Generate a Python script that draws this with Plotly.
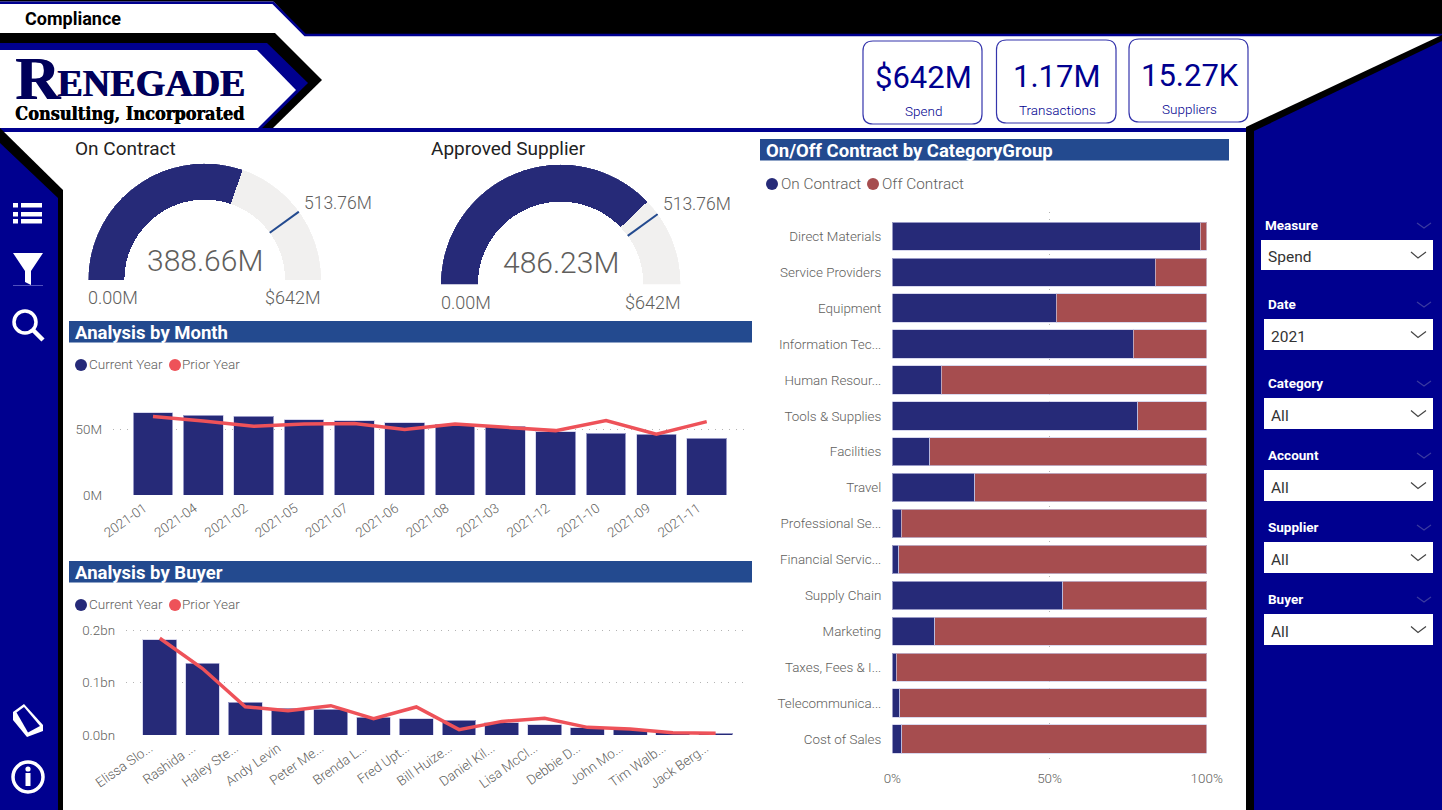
import plotly.graph_objects as go

# ---------- data ----------
months = ["2021-01","2021-04","2021-02","2021-05","2021-07","2021-06","2021-08","2021-03","2021-12","2021-10","2021-09","2021-11"]
month_current = [63.0,61.0,60.2,57.7,56.6,55.1,54.0,52.5,48.5,47.2,46.4,43.4]
month_prior = [60.0,56.6,52.5,54.3,54.6,50.0,54.3,52.0,49.2,56.9,46.4,56.1]
month_ticks = [0,50]
month_ticktext = ["0M","50M"]

buyers = ["Elissa Slo...","Rashida ...","Haley Ste...","Andy Levin","Peter Me...","Brenda L...","Fred Upt...","Bill Huize...","Daniel Kil...","Lisa McCl...","Debbie D...","John Mo...","Tim Walb...","Jack Berg..."]
buyer_current = [0.1815,0.137,0.063,0.051,0.049,0.034,0.031,0.028,0.023,0.020,0.0134,0.0096,0.0045,0.0038]
buyer_prior = [0.1847,0.127,0.054,0.0465,0.056,0.031,0.0535,0.0102,0.026,0.032,0.0146,0.0115,0.0045,0.0032]
buyer_ticks = [0,0.1,0.2]
buyer_ticktext = ["0.0bn","0.1bn","0.2bn"]

groups = ["Direct Materials","Service Providers","Equipment","Information Tec...","Human Resour...","Tools & Supplies","Facilities","Travel","Professional Se...","Financial Servic...","Supply Chain","Marketing","Taxes, Fees & I...","Telecommunica...","Cost of Sales"]
on_contract = [97.9,83.6,52.1,76.6,15.6,78.1,11.9,26.2,2.9,2.0,54.2,13.5,1.3,2.4,3.0]
off_contract = [2.1,16.4,47.9,23.4,84.4,21.9,88.1,73.8,97.1,98.0,45.8,86.5,98.7,97.6,97.0]
pct_ticks = [0,50,100]
pct_ticktext = ["0%","50%","100%"]

gauge_max = 642.0
gauge_target = 513.76
gauge_on_contract = 388.66
gauge_approved = 486.23

kpi_values = ["$642M","1.17M","15.27K"]
kpi_names = ["Spend","Transactions","Suppliers"]
slicers = ["Measure","Date","Category","Account","Supplier","Buyer"]
slicer_values = ["Spend","2021","All","All","All","All"]

# ---------- styles ----------
W, H = 1442, 810
NAVY = "#262A78"
RED = "#EE5259"
OFF = "#A64D4F"
BLUE = "#00008F"
BAND = "#234A8F"
GREY = "#605E5C"
TRACK = "#F1F0EF"
FONT = "Roboto"

def fx(x): return x / W
def fy(y): return 1 - y / H

shapes = []
annotations = []

def poly(points, fill, line=None, lw=0):
    d = "M " + " L ".join(f"{fx(x):.5f},{fy(y):.5f}" for x, y in points) + " Z"
    shapes.append(dict(type="path", xref="paper", yref="paper", path=d, fillcolor=fill,
                       line=dict(color=line or fill, width=lw), layer="below"))

def rect(x0, y0, x1, y1, fill):
    shapes.append(dict(type="rect", xref="paper", yref="paper", x0=fx(x0), x1=fx(x1), y0=fy(y0), y1=fy(y1),
                       fillcolor=fill, line=dict(width=0), layer="below"))

def circle(cx, cy, r, fill="rgba(0,0,0,0)", line=None, lw=0):
    shapes.append(dict(type="circle", xref="paper", yref="paper", x0=fx(cx-r), x1=fx(cx+r), y0=fy(cy-r), y1=fy(cy+r),
                       fillcolor=fill, line=dict(color=line or fill, width=lw), layer="below"))

def polyline(points, color, lw):
    d = "M " + " L ".join(f"{fx(x):.5f},{fy(y):.5f}" for x, y in points)
    shapes.append(dict(type="path", xref="paper", yref="paper", path=d, fillcolor="rgba(0,0,0,0)",
                       line=dict(color=color, width=lw), layer="below"))

def rounded(x0, y0, x1, y1, r, color, lw=1.2):
    d = (f"M {fx(x0+r):.5f},{fy(y0):.5f} L {fx(x1-r):.5f},{fy(y0):.5f} Q {fx(x1):.5f},{fy(y0):.5f} {fx(x1):.5f},{fy(y0+r):.5f} "
         f"L {fx(x1):.5f},{fy(y1-r):.5f} Q {fx(x1):.5f},{fy(y1):.5f} {fx(x1-r):.5f},{fy(y1):.5f} "
         f"L {fx(x0+r):.5f},{fy(y1):.5f} Q {fx(x0):.5f},{fy(y1):.5f} {fx(x0):.5f},{fy(y1-r):.5f} "
         f"L {fx(x0):.5f},{fy(y0+r):.5f} Q {fx(x0):.5f},{fy(y0):.5f} {fx(x0+r):.5f},{fy(y0):.5f} Z")
    shapes.append(dict(type="path", xref="paper", yref="paper", path=d, fillcolor="white",
                       line=dict(color=color, width=lw), layer="below"))

def text(x, y, s, size, color=GREY, anchor="left", bold=False, font=FONT, weight=None, shadow=None):
    f = dict(family=font, size=size, color=color)
    if weight: f["weight"] = weight
    if shadow: f["shadow"] = shadow
    annotations.append(dict(xref="paper", yref="paper", x=fx(x), y=fy(y), text=f"<b>{s}</b>" if bold else s,
                            showarrow=False, xanchor=anchor, yanchor="middle", borderpad=0, borderwidth=0, font=f))

# ---------- page furniture ----------
poly([(272,0),(W,0),(W,34),(304,34)], "black")
rect(0,0,274,1.5,"black")
polyline([(0,2.8),(273,2.8),(305,35),(W,35)], BLUE, 2.5)
poly([(0,33),(275,33),(322,80),(273,128),(258,128),(0,128)], "black")
poly([(0,43),(267,43),(308,83),(258,132),(0,132)], BLUE)
poly([(0,50),(257,50),(296,90),(258,128),(0,128)], "white")
rect(258,128,1250,132,BLUE)
poly([(0,128),(63,190),(63,H),(0,H)], "black")
poly([(0,143),(58,198),(58,H),(0,H)], BLUE)
poly([(W,35),(1246,127),(1246,H),(W,H)], "black")
poly([(W,41),(1254,131),(1254,H),(W,H)], BLUE)

# left icons
for y0 in (203,212,219):
    rect(13,y0,18,y0+4.5,"white")
    rect(21,y0,42,y0+4.5,"white")
poly([(13,253),(43,253),(31,271),(31,285),(25,282),(25,271)], "white")
rect(13,285,43,285.6,"#8888dd")
circle(25,322,11,line="white",lw=3.5)
polyline([(33,330),(43,340)],"white",4.5)
poly([(13,712),(24,704),(43,725),(43,731),(27,737),(13,720)], "white")
poly([(16.5,712.5),(24,707),(40,726),(28,732.5)], BLUE)
circle(28,777,15,line="white",lw=3.5)
circle(28,769,2.6,fill="white")
rect(25.5,773,30.5,786,"white")

# KPI cards
cards = [(863,41,982,124),(996.5,40,1116,123),(1129,39,1248,122)]
for (x0,y0,x1,y1),v,n in zip(cards,kpi_values,kpi_names):
    rounded(x0,y0,x1,y1,10,"#3535AC")
    text((x0+x1)/2+1,y0+36.5,v,31,color="#00008F",anchor="center")
    text((x0+x1)/2+1,y0+70,n,13.5,color="#00008F",anchor="center",weight=300)

# header strips
for x0,y0,x1,s in [(69,321,752,"Analysis by Month"),(69,561,752,"Analysis by Buyer"),(760,139,1229,"On/Off Contract by CategoryGroup")]:
    rect(x0,y0,x1,y0+21.5,BAND)
    text(x0+6,y0+12,s,18.5,color="white",bold=True)

# page text
text(25,18,"Compliance",18,color="black",bold=True)
text(75,148.5,"On Contract",19,color="#222222")
text(431,148.5,"Approved Supplier",19,color="#222222")

# logo (real text)
text(15,78,"R",62,color="#00005A",bold=True,font="Liberation Serif",shadow="1px 0 0 #00005A")
text(57,83,"ENEGADE",38,color="#00005A",bold=True,font="Liberation Serif",shadow="1px 0 0 #00005A")
text(15,113,"Consulting, Incorporated",18,color="black",bold=True,font="DejaVu Serif Condensed",shadow="0.6px 0 0 black")

# gauge labels
text(205,260,f"{gauge_on_contract:.2f}M",30,anchor="center",weight=300)
text(88,297.5,"0.00M",18,weight=300)
text(321,297.5,"$642M",18,anchor="right",weight=300)
text(304,203,f"{gauge_target:.2f}M",17.5,weight=300)
text(561,263,f"{gauge_approved:.2f}M",30,anchor="center",weight=300)
text(441,302,"0.00M",18,weight=300)
text(681,302,"$642M",18,anchor="right",weight=300)
text(663,204,f"{gauge_target:.2f}M",17.5,weight=300)

# legends
def legend(y, items, size, r, dy):
    for cx, tx, color, s in items:
        circle(cx, y, r, fill=color)
        text(tx, y+dy, s, size, weight=300)
legend(365,[(81,89,NAVY,"Current Year"),(175,182,RED,"Prior Year")],13.5,6,-1)
legend(605,[(81,89,NAVY,"Current Year"),(175,182,RED,"Prior Year")],13.5,6,-1)
legend(184,[(772,781,NAVY,"On Contract"),(873,882,OFF,"Off Contract")],15.3,6,0.5)

# slicers
slicer_geom = [(1265,225,1261,240,270),(1268,304,1264,319,350),(1268,383,1264,398,429),
               (1268,455,1264,470,501),(1268,527,1264,542,573),(1268,599,1264,614,645)]
for (lx,ly,bx,by0,by1),name,val in zip(slicer_geom,slicers,slicer_values):
    text(lx,ly,name,13.5,color="white",bold=True)
    polyline([(1417,ly-2),(1424,ly+3),(1431,ly-2)],"#3A3AA0",1.2)
    rect(bx,by0,1433,by1,"white")
    text(bx+7,(by0+by1)/2+2.3,val,15.5,color="#333333")
    polyline([(1411,(by0+by1)/2-3),(1418,(by0+by1)/2+3),(1426,(by0+by1)/2-3)],"#444444",1.2)

# ---------- charts ----------
fig = go.Figure()

tick_font = dict(family=FONT, size=13.4, color=GREY, weight=300)
BAR_LINE = dict(color="rgba(200,200,230,0.7)", width=1)
GRID = dict(gridcolor="#B4B4B4", griddash="1px,6px", gridwidth=1, zeroline=False)

fig.add_trace(go.Bar(x=months, y=month_current, marker=dict(color=NAVY, line=BAR_LINE), xaxis="x", yaxis="y", name="Current Year"))
fig.add_trace(go.Scatter(x=months, y=month_prior, mode="lines", line=dict(color=RED, width=3.5), xaxis="x", yaxis="y", name="Prior Year"))
fig.add_trace(go.Bar(x=buyers, y=buyer_current, marker=dict(color=NAVY, line=BAR_LINE), xaxis="x2", yaxis="y2", name="Current Year"))
fig.add_trace(go.Scatter(x=buyers, y=buyer_prior, mode="lines", line=dict(color=RED, width=3.5), xaxis="x2", yaxis="y2", name="Prior Year"))
fig.add_trace(go.Bar(y=groups, x=on_contract, orientation="h", marker=dict(color=NAVY, line=BAR_LINE), xaxis="x3", yaxis="y3", name="On Contract"))
fig.add_trace(go.Bar(y=groups, x=off_contract, orientation="h", marker=dict(color=OFF, line=BAR_LINE), xaxis="x3", yaxis="y3", name="Off Contract"))

def add_gauge(subplot, value):
    fig.add_trace(go.Barpolar(r=[0.31], base=[0.69], theta=[90], width=[180], marker=dict(color=TRACK, line=dict(width=0)), subplot=subplot))
    sweep = value / gauge_max * 180
    fig.add_trace(go.Barpolar(r=[0.31], base=[0.69], theta=[sweep/2], width=[sweep], marker=dict(color=NAVY, line=dict(width=0)), subplot=subplot))
    t = gauge_target / gauge_max * 180
    fig.add_trace(go.Scatterpolar(r=[0.69,1.0], theta=[t,t], mode="lines", line=dict(color=BAND, width=2), subplot=subplot))
add_gauge("polar", gauge_on_contract)
add_gauge("polar2", gauge_approved)

def polar_layout(cx, base, R):
    return dict(domain=dict(x=[fx(cx-R), fx(cx+R)], y=[fy(base), fy(base-R)]), sector=[0,180], bgcolor="rgba(0,0,0,0)", barmode="overlay",
                radialaxis=dict(visible=False, range=[0,1]),
                angularaxis=dict(visible=False, direction="clockwise", rotation=180, thetaunit="degrees"))

def dom(a, b, size):
    return [a/size, b/size]

fig.update_layout(
    width=W, height=H, margin=dict(l=0,r=0,t=0,b=0,pad=0,autoexpand=False),
    paper_bgcolor="white", plot_bgcolor="rgba(0,0,0,0)", showlegend=False,
    barmode="stack", shapes=shapes, annotations=annotations,
    font=dict(family=FONT, color=GREY),
    polar=polar_layout(204.7,280,116.5), polar2=polar_layout(560.7,284.5,120),
    xaxis=dict(domain=dom(113,746,W), type="category", range=[-0.794,11.78], tickangle=-35, showgrid=False, zeroline=False, tickfont=tick_font, ticks="", anchor="y", ticklabelstandoff=2, ticklabelshift=-9),
    yaxis=dict(domain=[fy(495), fy(400)], range=[0,72.6], tickvals=month_ticks, ticktext=month_ticktext, tickfont=tick_font, anchor="x", ticklabelstandoff=10, **GRID),
    xaxis2=dict(domain=dom(126,746,W), type="category", range=[-0.79,13.71], tickangle=-35, showgrid=False, zeroline=False, tickfont=tick_font, ticks="", anchor="y2", ticklabelstandoff=2, ticklabelshift=-10),
    yaxis2=dict(domain=[fy(735), fy(625)], range=[0,0.2101], tickvals=buyer_ticks, ticktext=buyer_ticktext, tickfont=tick_font, anchor="x2", ticklabelstandoff=10, **GRID),
    xaxis3=dict(domain=dom(892.3,1206.7,W), range=[0,100], tickvals=pct_ticks, ticktext=pct_ticktext, tickfont=tick_font, anchor="y3", ticklabelstandoff=7, **GRID),
    yaxis3=dict(domain=[fy(762), fy(212)], type="category", range=[14.64,-0.676], showgrid=False, zeroline=False, tickfont=tick_font, anchor="x3", ticklabelstandoff=10),
    bargap=0.21,
)

fig.write_html("out.html", config=dict(displayModeBar=False), post_script="document.body.style.margin='0';document.body.style.overflow='hidden';")
